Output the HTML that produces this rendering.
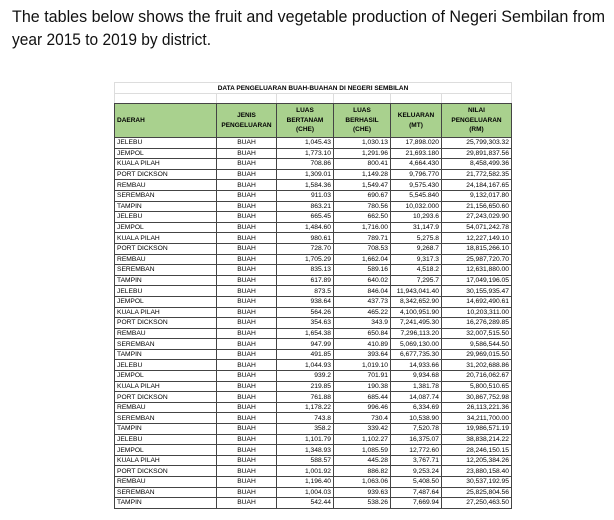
<!DOCTYPE html>
<html><head><meta charset="utf-8">
<style>
body{margin:0;width:614px;height:520px;background:#fff;overflow:hidden;font-family:"Liberation Sans",sans-serif;}
#intro{position:absolute;left:0;top:0;}
#tbl{position:absolute;left:114px;top:82px;border-collapse:collapse;table-layout:fixed;font-size:6.7px;color:#000;}
#tbl td{border:1px solid #444;padding:0 2px;height:9.6px;line-height:9px;white-space:nowrap;overflow:hidden;}
#tbl td.r{text-align:right;}
#tbl td.c{text-align:center;}
#tbl tr.hd td{background:#a9d18e;font-weight:bold;text-align:center;line-height:9.5px;height:33px;font-size:6.5px;}
#tbl tr.hd td.l{text-align:left;}
#tbl tr.tt td{border:1px solid #ddd;text-align:center;font-weight:bold;font-size:6.5px;height:10px;}
#tbl tr.bl td{border:1px solid #ddd;border-bottom-color:#444;height:9px;}
</style></head>
<body>
<svg id="intro" width="614" height="60">
<text x="12" y="22" font-size="17" textLength="593" lengthAdjust="spacingAndGlyphs" fill="#111">The tables below shows the fruit and vegetable production of Negeri Sembilan from</text>
<text x="12" y="45" font-size="17" textLength="199" lengthAdjust="spacingAndGlyphs" fill="#111">year 2015 to 2019 by district.</text>
</svg>
<table id="tbl">
<colgroup><col style="width:102px"><col style="width:60px"><col style="width:57px"><col style="width:57px"><col style="width:51px"><col style="width:70px"></colgroup>
<tbody id="tb">
<tr class="tt"><td colspan="6">DATA PENGELUARAN BUAH-BUAHAN DI NEGERI SEMBILAN</td></tr>
<tr class="bl"><td></td><td></td><td></td><td></td><td></td><td></td></tr>
<tr class="hd">
<td class="l">DAERAH</td>
<td>JENIS<br>PENGELUARAN</td>
<td>LUAS<br>BERTANAM<br>(CHE)</td>
<td>LUAS<br>BERHASIL<br>(CHE)</td>
<td>KELUARAN<br>(MT)</td>
<td>NILAI<br>PENGELUARAN<br>(RM)</td>
</tr>
</tbody></table>
<script>
const districts=["JELEBU","JEMPOL","KUALA PILAH","PORT DICKSON","REMBAU","SEREMBAN","TAMPIN"];
const bertanam=["1,045.43","1,773.10","708.86","1,309.01","1,584.36","911.03","863.21",
"665.45","1,484.60","980.61","728.70","1,705.29","835.13","617.89",
"873.5","938.64","564.26","354.63","1,654.38","947.99","491.85",
"1,044.93","939.2","219.85","761.88","1,178.22","743.8","358.2",
"1,101.79","1,348.93","588.57","1,001.92","1,196.40","1,004.03","542.44"];
const berhasil=["1,030.13","1,291.96","800.41","1,149.28","1,549.47","690.67","780.56",
"662.50","1,716.00","789.71","708.53","1,662.04","589.16","640.02",
"846.04","437.73","465.22","343.9","650.84","410.89","393.64",
"1,019.10","701.91","190.38","685.44","996.46","730.4","339.42",
"1,102.27","1,085.59","445.28","886.82","1,063.06","939.63","538.26"];
const keluaran=["17,898.020","21,693.180","4,664.430","9,796.770","9,575.430","5,545.840","10,032.000",
"10,293.6","31,147.9","5,275.8","9,268.7","9,317.3","4,518.2","7,295.7",
"11,943,041.40","8,342,652.90","4,100,951.90","7,241,495.30","7,296,113.20","5,069,130.00","6,677,735.30",
"14,933.66","9,934.68","1,381.78","14,087.74","6,334.69","10,538.90","7,520.78",
"16,375.07","12,772.60","3,767.71","9,253.24","5,408.50","7,487.64","7,669.94"];
const nilai=["25,799,303.32","29,891,837.56","8,458,499.36","21,772,582.35","24,184,167.65","9,132,017.80","21,156,650.60",
"27,243,029.90","54,071,242.78","12,227,149.10","18,815,266.10","25,987,720.70","12,631,880.00","17,049,196.05",
"30,155,935.47","14,692,490.61","10,203,311.00","16,276,289.85","32,007,515.50","9,586,544.50","29,969,015.50",
"31,202,688.86","20,716,062.67","5,800,510.65","30,867,752.98","26,113,221.36","34,211,700.00","19,986,571.19",
"38,838,214.22","28,246,150.15","12,205,384.26","23,880,158.40","30,537,192.95","25,825,804.56","27,250,463.50"];
const tb=document.getElementById('tb');
for(let i=0;i<bertanam.length;i++){
  const tr=document.createElement('tr');
  
  
  const vals=[districts[i%7],"BUAH",bertanam[i],berhasil[i],keluaran[i],nilai[i]];
  const cls=["","c","r","r","r","r"];
  for(let j=0;j<6;j++){
    const td=document.createElement('td');
    td.className=cls[j];
    td.textContent=vals[j];
    
    
    tr.appendChild(td);
  }
  tb.appendChild(tr);
}
</script>
</body></html>
